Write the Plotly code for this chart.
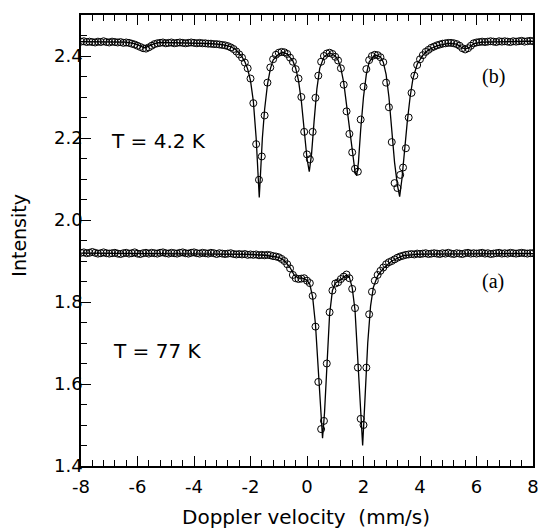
import plotly.graph_objects as go

# Doppler velocity channels (mm/s)
velocity = [
    -8.0, -7.9, -7.8, -7.7, -7.6, -7.5, -7.4, -7.3, -7.2, -7.1,
    -7.0, -6.9, -6.8, -6.7, -6.6, -6.5, -6.4, -6.3, -6.2, -6.1,
    -6.0, -5.9, -5.8, -5.7, -5.6, -5.5, -5.4, -5.3, -5.2, -5.1,
    -5.0, -4.9, -4.8, -4.7, -4.6, -4.5, -4.4, -4.3, -4.2, -4.1,
    -4.0, -3.9, -3.8, -3.7, -3.6, -3.5, -3.4, -3.3, -3.2, -3.1,
    -3.0, -2.9, -2.8, -2.7, -2.6, -2.5, -2.4, -2.3, -2.2, -2.1,
    -2.0, -1.9, -1.8, -1.7, -1.6, -1.5, -1.4, -1.3, -1.2, -1.1,
    -1.0, -0.9, -0.8, -0.7, -0.6, -0.5, -0.4, -0.3, -0.2, -0.1,
    0.0, 0.1, 0.2, 0.3, 0.4, 0.5, 0.6, 0.7, 0.8, 0.9,
    1.0, 1.1, 1.2, 1.3, 1.4, 1.5, 1.6, 1.7, 1.8, 1.9,
    2.0, 2.1, 2.2, 2.3, 2.4, 2.5, 2.6, 2.7, 2.8, 2.9,
    3.0, 3.1, 3.2, 3.3, 3.4, 3.5, 3.6, 3.7, 3.8, 3.9,
    4.0, 4.1, 4.2, 4.3, 4.4, 4.5, 4.6, 4.7, 4.8, 4.9,
    5.0, 5.1, 5.2, 5.3, 5.4, 5.5, 5.6, 5.7, 5.8, 5.9,
    6.0, 6.1, 6.2, 6.3, 6.4, 6.5, 6.6, 6.7, 6.8, 6.9,
    7.0, 7.1, 7.2, 7.3, 7.4, 7.5, 7.6, 7.7, 7.8, 7.9,
    8.0,
]

# (b) T = 4.2 K measured intensity
intensity_b = [
    2.435, 2.436, 2.434, 2.435, 2.434, 2.433, 2.435, 2.434, 2.436, 2.434,
    2.433, 2.435, 2.434, 2.433, 2.434, 2.432, 2.433, 2.432, 2.430, 2.428,
    2.425, 2.422, 2.419, 2.418, 2.421, 2.425, 2.429, 2.431, 2.432, 2.433,
    2.431, 2.432, 2.433, 2.431, 2.432, 2.433, 2.432, 2.431, 2.432, 2.433,
    2.432, 2.431, 2.432, 2.431, 2.431, 2.430, 2.430, 2.429, 2.429, 2.428,
    2.427, 2.426, 2.424, 2.421, 2.417, 2.411, 2.404, 2.396, 2.384, 2.370,
    2.345, 2.285, 2.185, 2.098, 2.155, 2.255, 2.335, 2.372, 2.392, 2.403,
    2.408, 2.410, 2.409, 2.405, 2.396, 2.386, 2.368, 2.345, 2.300, 2.215,
    2.160, 2.148, 2.215, 2.298, 2.352, 2.386, 2.400, 2.406, 2.408, 2.405,
    2.398, 2.389, 2.370, 2.330, 2.265, 2.210, 2.165, 2.125, 2.118, 2.245,
    2.325, 2.368, 2.390, 2.400, 2.403, 2.402, 2.397, 2.385, 2.335, 2.275,
    2.190, 2.090, 2.078, 2.110, 2.128, 2.175, 2.250, 2.310, 2.352, 2.378,
    2.392, 2.402, 2.410, 2.415, 2.420, 2.423, 2.426, 2.428, 2.430, 2.431,
    2.432, 2.432, 2.431, 2.429, 2.425, 2.419, 2.416, 2.419, 2.425, 2.431,
    2.433, 2.434, 2.435, 2.434, 2.435, 2.436, 2.435, 2.434, 2.436, 2.435,
    2.436, 2.435, 2.434, 2.436, 2.435, 2.436, 2.437, 2.435, 2.436, 2.437,
    2.436,
]

# (a) T = 77 K measured intensity
intensity_a = [
    1.920, 1.921, 1.919, 1.920, 1.922, 1.920, 1.918, 1.919, 1.921, 1.919,
    1.918, 1.919, 1.920, 1.918, 1.917, 1.919, 1.920, 1.918, 1.919, 1.921,
    1.918, 1.917, 1.919, 1.920, 1.918, 1.920, 1.919, 1.918, 1.920, 1.921,
    1.919, 1.918, 1.920, 1.919, 1.918, 1.920, 1.921, 1.919, 1.918, 1.920,
    1.921, 1.919, 1.918, 1.920, 1.919, 1.918, 1.920, 1.919, 1.917, 1.919,
    1.918, 1.917, 1.918, 1.919, 1.917, 1.916, 1.917, 1.916, 1.917, 1.915,
    1.916, 1.915, 1.916, 1.914, 1.915, 1.914, 1.915, 1.914, 1.912, 1.911,
    1.909, 1.905, 1.900, 1.892, 1.882, 1.866, 1.858, 1.856, 1.857, 1.858,
    1.852, 1.846, 1.815, 1.740, 1.605, 1.490, 1.510, 1.650, 1.775, 1.828,
    1.845, 1.848, 1.856, 1.862, 1.867, 1.858, 1.832, 1.785, 1.640, 1.515,
    1.500, 1.640, 1.770, 1.825, 1.852, 1.866, 1.876, 1.884, 1.892, 1.897,
    1.900, 1.904, 1.908, 1.911, 1.913, 1.915, 1.916, 1.917, 1.916, 1.918,
    1.917, 1.918, 1.919, 1.917, 1.918, 1.919, 1.918, 1.917, 1.919, 1.918,
    1.920, 1.918, 1.917, 1.919, 1.918, 1.917, 1.919, 1.920, 1.918, 1.919,
    1.918, 1.919, 1.920, 1.918, 1.919, 1.917, 1.918, 1.919, 1.920, 1.918,
    1.919, 1.918, 1.920, 1.919, 1.918, 1.919, 1.920, 1.919, 1.918, 1.919,
    1.919,
]

# Fitted curves
fit_b_velocity = [
    -8.0, -6.4, -6.1, -5.9, -5.75, -5.6, -5.4, -5.2, -4.0, -3.4, -3.0, -2.7,
    -2.5, -2.3, -2.2, -2.1, -2.0, -1.9, -1.8, -1.74, -1.69, -1.64, -1.58,
    -1.5, -1.4, -1.3, -1.2, -1.0, -0.85, -0.7, -0.5, -0.4, -0.3, -0.2, -0.1,
    0.0, 0.08, 0.16, 0.25, 0.35, 0.45, 0.6, 0.8, 1.0, 1.1, 1.2, 1.3, 1.4,
    1.5, 1.6, 1.7, 1.76, 1.82, 1.9, 2.0, 2.1, 2.2, 2.4, 2.6, 2.7, 2.8, 2.9,
    3.0, 3.1, 3.2, 3.28, 3.36, 3.45, 3.55, 3.65, 3.75, 3.9, 4.1, 4.3, 4.6,
    5.0, 5.3, 5.45, 5.6, 5.75, 5.9, 6.2, 8.0,
]
fit_b_intensity = [
    2.435, 2.434, 2.430, 2.424, 2.420, 2.424, 2.430, 2.433, 2.432, 2.430, 2.428, 2.423,
    2.414, 2.398, 2.386, 2.368, 2.340, 2.290, 2.200, 2.120, 2.055, 2.120, 2.200,
    2.270, 2.330, 2.368, 2.390, 2.405, 2.409, 2.405, 2.388, 2.370, 2.340, 2.290, 2.215,
    2.150, 2.118, 2.160, 2.240, 2.320, 2.370, 2.398, 2.408, 2.400, 2.390, 2.370, 2.335, 2.280,
    2.215, 2.160, 2.118, 2.108, 2.140, 2.220, 2.300, 2.355, 2.385, 2.403, 2.398, 2.385, 2.355, 2.300,
    2.220, 2.140, 2.085, 2.057, 2.100, 2.170, 2.240, 2.300, 2.345, 2.380, 2.402, 2.415, 2.425,
    2.431, 2.429, 2.422, 2.417, 2.421, 2.430, 2.434, 2.436,
]

fit_a_velocity = [
    -8.0, -3.0, -2.0, -1.5, -1.2, -1.0, -0.8, -0.6, -0.45, -0.3, -0.15, 0.0,
    0.1, 0.2, 0.3, 0.4, 0.48, 0.55, 0.62, 0.7, 0.8, 0.9, 1.0, 1.2, 1.4, 1.5,
    1.6, 1.7, 1.8, 1.88, 1.97, 2.05, 2.15, 2.25, 2.35, 2.5, 2.7, 3.0, 3.4,
    4.0, 8.0,
]
fit_a_intensity = [
    1.919, 1.918, 1.916, 1.914, 1.912, 1.909, 1.901, 1.884, 1.865, 1.858, 1.858, 1.853,
    1.843, 1.812, 1.745, 1.630, 1.520, 1.468, 1.530, 1.650, 1.770, 1.828, 1.846, 1.855, 1.866, 1.860,
    1.835, 1.780, 1.660, 1.540, 1.450, 1.560, 1.700, 1.790, 1.836, 1.864, 1.882, 1.900, 1.913,
    1.917, 1.918,
]

x_tick_values = [-8, -6, -4, -2, 0, 2, 4, 6, 8]
x_tick_labels = ["-8", "-6", "-4", "-2", "0", "2", "4", "6", "8"]
y_tick_values = [1.4, 1.6, 1.8, 2.0, 2.2, 2.4]
y_tick_labels = ["1.4", "1.6", "1.8", "2.0", "2.2", "2.4"]

SANS = "DejaVu Sans"
SERIF = "Liberation Serif"

fig = go.Figure()
marker_style = dict(symbol="circle-open", size=7, color="black", line=dict(width=1, color="black"))
fig.add_trace(go.Scatter(x=velocity, y=intensity_b, mode="markers", marker=marker_style, showlegend=False))
fig.add_trace(go.Scatter(x=velocity, y=intensity_a, mode="markers", marker=marker_style, showlegend=False))
fig.add_trace(go.Scatter(x=fit_b_velocity, y=fit_b_intensity, mode="lines",
                         line=dict(color="black", width=1.3), showlegend=False))
fig.add_trace(go.Scatter(x=fit_a_velocity, y=fit_a_intensity, mode="lines",
                         line=dict(color="black", width=1.3), showlegend=False))

fig.update_layout(
    width=544, height=529,
    margin=dict(l=81, r=5, t=15, b=63),
    paper_bgcolor="white", plot_bgcolor="white",
    font=dict(family=SANS, size=18, color="black"),
    xaxis=dict(
        range=[-8, 8], showgrid=False, zeroline=False,
        showline=True, linecolor="black", linewidth=1.5, mirror="ticks",
        ticks="inside", ticklen=10, tickwidth=1.2, tickcolor="black",
        tickvals=x_tick_values, ticktext=x_tick_labels,
        ticklabelstandoff=4, ticklabeloverflow="allow",
        minor=dict(dtick=0.4, tick0=0, ticks="inside", ticklen=6, tickwidth=1.2, tickcolor="black", showgrid=False),
        tickfont=dict(family=SANS, size=18),
    ),
    yaxis=dict(
        range=[1.4, 2.5], showgrid=False, zeroline=False,
        showline=True, linecolor="black", linewidth=1.5, mirror=True,
        ticks="inside", ticklen=10, tickwidth=1.2, tickcolor="black",
        tickvals=y_tick_values, ticktext=y_tick_labels,
        ticklabelstandoff=-7,
        minor=dict(dtick=0.05, tick0=1.4, ticks="inside", ticklen=6, tickwidth=1.2, tickcolor="black", showgrid=False),
        tickfont=dict(family=SANS, size=18),
    ),
    yaxis2=dict(
        overlaying="y", side="right", range=[1.4, 2.5], showgrid=False, zeroline=False,
        showline=False, ticks="inside", ticklen=6, tickwidth=1.2, tickcolor="black",
        tick0=1.4, dtick=0.05, showticklabels=False,
    ),
)

annotations = [
    dict(x=-5.25, y=2.193, xref="x", yref="y", text="T = 4.2 K", showarrow=False,
         font=dict(family=SANS, size=20)),
    dict(x=-5.3, y=1.680, xref="x", yref="y", text="T = 77 K", showarrow=False,
         font=dict(family=SANS, size=20)),
    dict(x=6.6, y=2.351, xref="x", yref="y", text="(b)", showarrow=False,
         font=dict(family=SERIF, size=20)),
    dict(x=6.6, y=1.850, xref="x", yref="y", text="(a)", showarrow=False,
         font=dict(family=SERIF, size=20)),
    dict(x=-0.138, y=0.512, xref="paper", yref="paper", text="Intensity", textangle=-90,
         showarrow=False, xanchor="center", yanchor="middle", font=dict(family=SANS, size=19)),
    dict(x=0.498, y=-0.113, xref="paper", yref="paper", text="Doppler velocity  (mm/s)",
         showarrow=False, xanchor="center", yanchor="middle", font=dict(family=SANS, size=20)),
]
fig.update_layout(annotations=annotations)

fig.write_html(
    "out.html",
    config={"displayModeBar": False},
    post_script="document.body.style.margin='0px';document.body.style.overflow='hidden';",
)
